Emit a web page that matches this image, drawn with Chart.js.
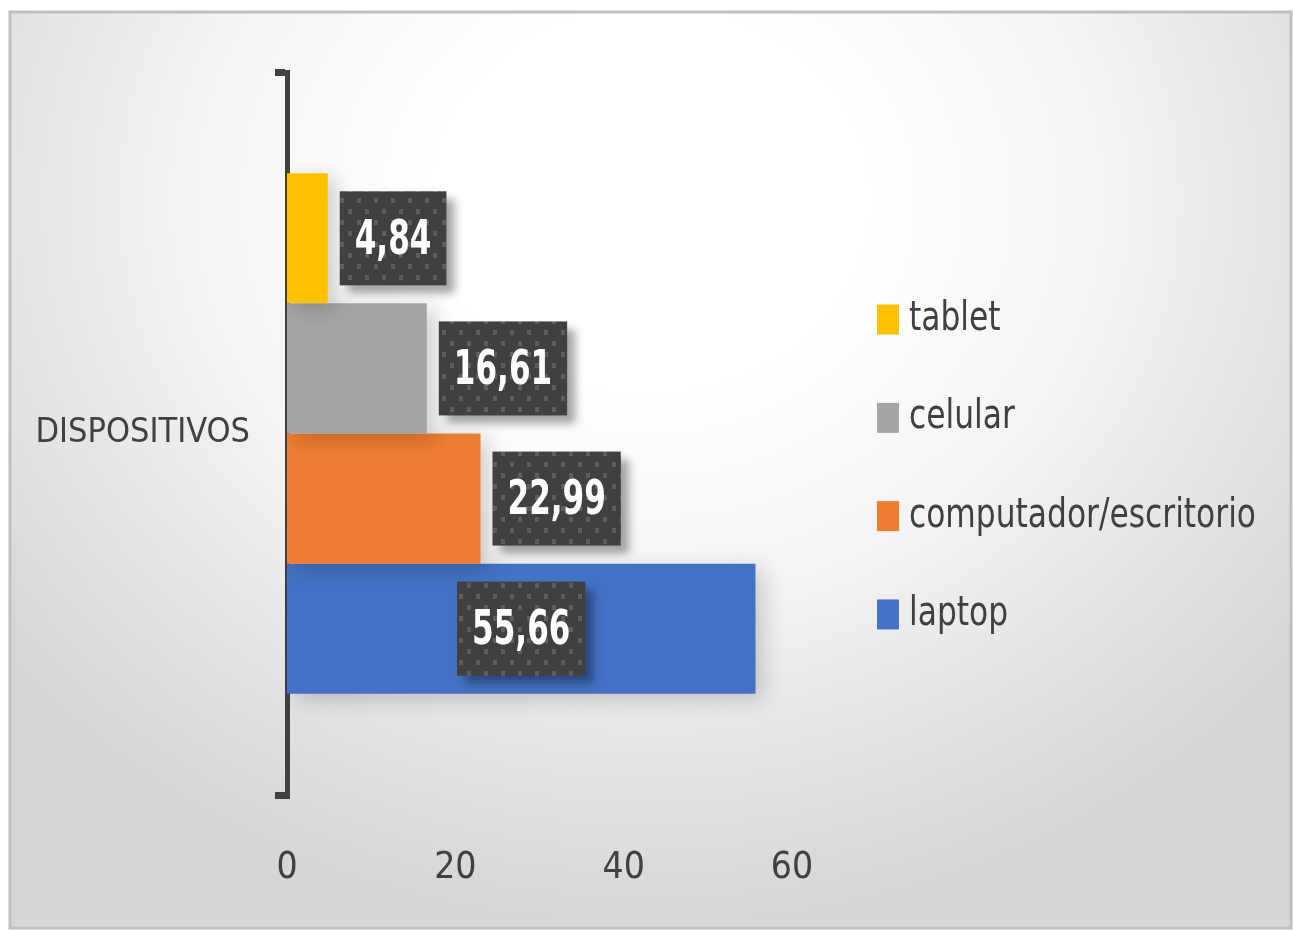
<!DOCTYPE html>
<html>
<head>
<meta charset="utf-8">
<script src="https://cdn.jsdelivr.net/npm/chart.js@4/dist/chart.umd.min.js"></script>
<style>
    html, body { margin: 0; padding: 0; background: #fff; }
    canvas { display: block; }
</style>
</head>
<body>
<canvas id="devicesChart" width="1293" height="930"></canvas>
<script>
const categories   = ['DISPOSITIVOS'];
const seriesNames  = ['tablet', 'celular', 'computador/escritorio', 'laptop'];
const seriesValues = [4.84, 16.61, 22.99, 55.66];
const xTickValues  = [0, 20, 40, 60];

const COLORS = {
    tablet:                  '#FFC000',
    celular:                 '#A5A5A5',
    'computador/escritorio': '#ED7D31',
    laptop:                  '#4472C4',
    text:                    '#404040',
    labelBox:                '#404040',
    labelDot:                '#5e5e5e',
};

const FONT = "'Liberation Sans Narrow', 'DejaVu Sans Condensed', sans-serif";

const formatValue = v => v.toFixed(2).replace('.', ',');

// dotted fill of the data label boxes
function makeDotPattern(ctx) {
    const tile = document.createElement('canvas');
    tile.width = 17;
    tile.height = 22;
    const t = tile.getContext('2d');
    t.fillStyle = COLORS.labelBox;
    t.fillRect(0, 0, 17, 22);
    t.fillStyle = COLORS.labelDot;
    t.fillRect(0, 0, 4, 5);
    t.fillRect(8, 11, 4, 5);
    return ctx.createPattern(tile, 'repeat');
}

// the reference font is narrower than anything installed, so squeeze it
function condensedText(ctx, text, x, y, squeeze) {
    ctx.save();
    ctx.translate(x, y);
    ctx.scale(squeeze, 1);
    ctx.fillText(text, 0, 0);
    ctx.restore();
}

const backgroundPlugin = {
    id: 'background',
    beforeDraw(chart) {
        const { ctx, width, height } = chart;
        ctx.save();
        ctx.fillStyle = '#ffffff';
        ctx.fillRect(0, 0, width, height);

        ctx.save();
        ctx.beginPath();
        ctx.rect(10, 12, width - 12, height - 14);
        ctx.clip();
        ctx.translate(650, 200);
        ctx.scale(820 / 720, 1);
        const g = ctx.createRadialGradient(0, 0, 0, 0, 0, 720);
        g.addColorStop(0, '#ffffff');
        g.addColorStop(0.25, '#ffffff');
        g.addColorStop(0.55, '#f4f4f4');
        g.addColorStop(0.8, '#e3e3e3');
        g.addColorStop(1, '#d6d6d6');
        ctx.fillStyle = g;
        ctx.fillRect(-700, -300, 1400, 1100);
        ctx.restore();

        ctx.strokeStyle = '#c0c0c0';
        ctx.lineWidth = 3;
        ctx.strokeRect(10, 12, width - 12, height - 14);
        ctx.restore();
    },
};

const barShadowPlugin = {
    id: 'barShadow',
    beforeDatasetsDraw(chart) {
        const { ctx } = chart;
        ctx.save();
        ctx.shadowColor = 'rgba(0, 0, 0, 0.18)';
        ctx.shadowBlur = 20;
        ctx.shadowOffsetX = 8;
        ctx.shadowOffsetY = 6;
    },
    afterDatasetsDraw(chart) {
        chart.ctx.restore();
    },
};

const dataLabelPlugin = {
    id: 'dataLabels',
    afterDatasetsDraw(chart) {
        const { ctx } = chart;
        const pattern = makeDotPattern(ctx);
        const squeeze = 0.72;
        ctx.save();
        ctx.font = `bold 48px ${FONT}`;
        ctx.textAlign = 'center';
        ctx.textBaseline = 'middle';
        chart.data.datasets.forEach((ds, i) => {
            const bar = chart.getDatasetMeta(i).data[0];
            if (!bar) return;
            const text = formatValue(ds.data[0]);
            const w = ctx.measureText(text).width * squeeze + 30;
            const h = 94;
            const barLen = bar.x - bar.base;
            const cx = barLen > 300 ? bar.base + barLen / 2 : bar.x + 12 + w / 2;
            const cy = bar.y;

            ctx.save();
            ctx.shadowColor = 'rgba(0, 0, 0, 0.35)';
            ctx.shadowBlur = 8;
            ctx.shadowOffsetX = 8;
            ctx.shadowOffsetY = 8;
            ctx.fillStyle = pattern;
            ctx.fillRect(cx - w / 2, cy - h / 2, w, h);
            ctx.restore();

            ctx.fillStyle = '#ffffff';
            condensedText(ctx, text, cx, cy + 3, squeeze);
        });
        ctx.restore();
    },
};

const legendPlugin = {
    id: 'sideLegend',
    afterDraw(chart) {
        const { ctx } = chart;
        const n = chart.data.datasets.length;
        const step = 98.3;
        const midY = 467;
        ctx.save();
        ctx.font = `40px ${FONT}`;
        ctx.textAlign = 'left';
        ctx.textBaseline = 'middle';
        chart.data.datasets.forEach((ds, i) => {
            const y = midY + (i - (n - 1) / 2) * step;
            ctx.fillStyle = ds.backgroundColor;
            ctx.fillRect(877, y - 15, 22, 30);
            ctx.fillStyle = COLORS.text;
            condensedText(ctx, ds.label, 909, y, 0.87);
        });
        ctx.restore();
    },
};

function init() {
    const canvas = document.getElementById('devicesChart');

    new Chart(canvas.getContext('2d'), {
        type: 'bar',
        data: {
            labels: categories,
            datasets: seriesNames.map((name, i) => ({
                label:           name,
                data:            [seriesValues[i]],
                backgroundColor: COLORS[name],
                borderWidth:     0,
            })),
        },
        options: {
            indexAxis: 'y',
            responsive: false,
            animation: false,
            layout: { padding: { left: 10, right: 501, top: 72, bottom: 0 } },
            datasets: { bar: { categoryPercentage: 0.72, barPercentage: 1 } },
            scales: {
                x: {
                    min: 0,
                    max: 60,
                    afterFit: scale => { scale.height = 135; },
                    afterBuildTicks: scale => {
                        scale.ticks = xTickValues.map(value => ({ value }));
                    },
                    grid: { display: false },
                    border: { display: false },
                    ticks: {
                        color: COLORS.text,
                        font: { family: FONT, size: 37 },
                        padding: 43,
                    },
                },
                y: {
                    afterFit: scale => { scale.width = 277; },
                    grid: {
                        display: true,
                        drawOnChartArea: false,
                        drawTicks: true,
                        tickLength: 12,
                        color: COLORS.text,
                        lineWidth: 7,
                        offset: true,
                    },
                    border: { display: true, color: COLORS.text, width: 5 },
                    ticks: {
                        color: COLORS.text,
                        font: { family: FONT, size: 34 },
                        padding: 25,
                    },
                },
            },
            plugins: {
                legend: { display: false },
                tooltip: { enabled: false },
            },
        },
        plugins: [backgroundPlugin, barShadowPlugin, dataLabelPlugin, legendPlugin],
    });
}

document.addEventListener('DOMContentLoaded', init);
</script>
</body>
</html>
